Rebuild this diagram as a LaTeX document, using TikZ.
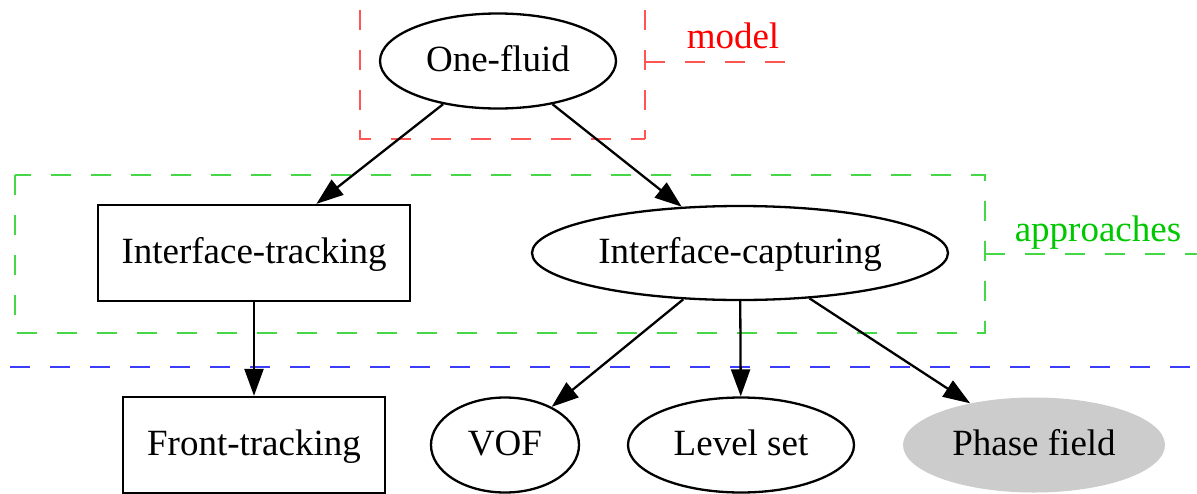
\documentclass[tikz,border=0pt]{standalone}
\usepackage{fontspec}
\setmainfont{Liberation Serif}
\usetikzlibrary{shapes.geometric,arrows.meta}
\definecolor{modelred}{RGB}{255,85,85}
\definecolor{modeltext}{RGB}{255,0,0}
\definecolor{appgreen}{RGB}{70,215,70}
\definecolor{apptext}{RGB}{0,200,0}
\definecolor{sepblue}{RGB}{60,60,255}
\definecolor{phasegray}{RGB}{204,204,204}
\begin{document}
\begin{tikzpicture}[x=1pt,y=-1pt,
  every node/.style={font=\fontsize{37}{44}\selectfont, inner sep=0pt, text height=26.6pt, text depth=5.9pt},
  ell/.style={ellipse, draw, line width=2.3pt, minimum height=95pt},
  boxnode/.style={rectangle, draw, line width=2.3pt, minimum height=96pt},
  conn/.style={line width=2.3pt, -{Triangle[length=27pt,width=19pt]}},
  dashline/.style={line width=2.2pt, dash pattern=on 20pt off 20pt},
  lbl/.style={anchor=base, text height=, text depth=}
]
\useasboundingbox (0,0) rectangle (1197,493);
\clip (0,0) rectangle (1197,493);

% cluster frames
\draw[dashline, modelred] (360,-30) -- (360,139) -- (645,139);
\draw[dashline, modelred] (645,-30) -- (645,139);
\coordinate (mstart) at (645,62);
\coordinate (mend) at (797,62);
\draw[dashline, modelred] (mstart) -- (mend);
\node[lbl, text=modeltext] (modellbl) at (733,48) {model};

\draw[dashline, appgreen] (15,175) rectangle (985,333);
\coordinate (astart) at (985,254);
\coordinate (aend) at (1197,254);
\draw[dashline, appgreen] (astart) -- (aend);
\node[lbl, text=apptext] (applbl) at (1098,241) {approaches};

\coordinate (bstart) at (10,367);
\coordinate (bend) at (1197,367);
\draw[dashline, sepblue] (bstart) -- (bend);

% nodes
\node[ell, minimum width=236pt] (onefluid) at (498,61) {One-fluid};
\node[boxnode, minimum width=312pt] (itrack) at (254,253) {Interface-tracking};
\node[ell, minimum width=416pt, minimum height=94pt] (icapt) at (740,253) {Interface-capturing};
\node[boxnode, minimum width=262pt] (ftrack) at (254,445) {Front-tracking};
\node[ell, minimum width=148pt] (vof) at (505,445) {VOF};
\node[ell, minimum width=226pt] (lset) at (741,445) {Level set};
\node[ellipse, fill=phasegray, minimum width=262pt, minimum height=95pt] (pfield) at (1034,445) {Phase field};

% connectors
\draw[conn] (onefluid) -- (itrack);
\draw[conn] (onefluid) -- (icapt);
\draw[conn] (itrack) -- (ftrack);
\draw[conn] (icapt) -- (vof);
\draw[conn] (icapt) -- (lset);
\draw[conn] (icapt) -- (pfield);
\end{tikzpicture}
\end{document}
